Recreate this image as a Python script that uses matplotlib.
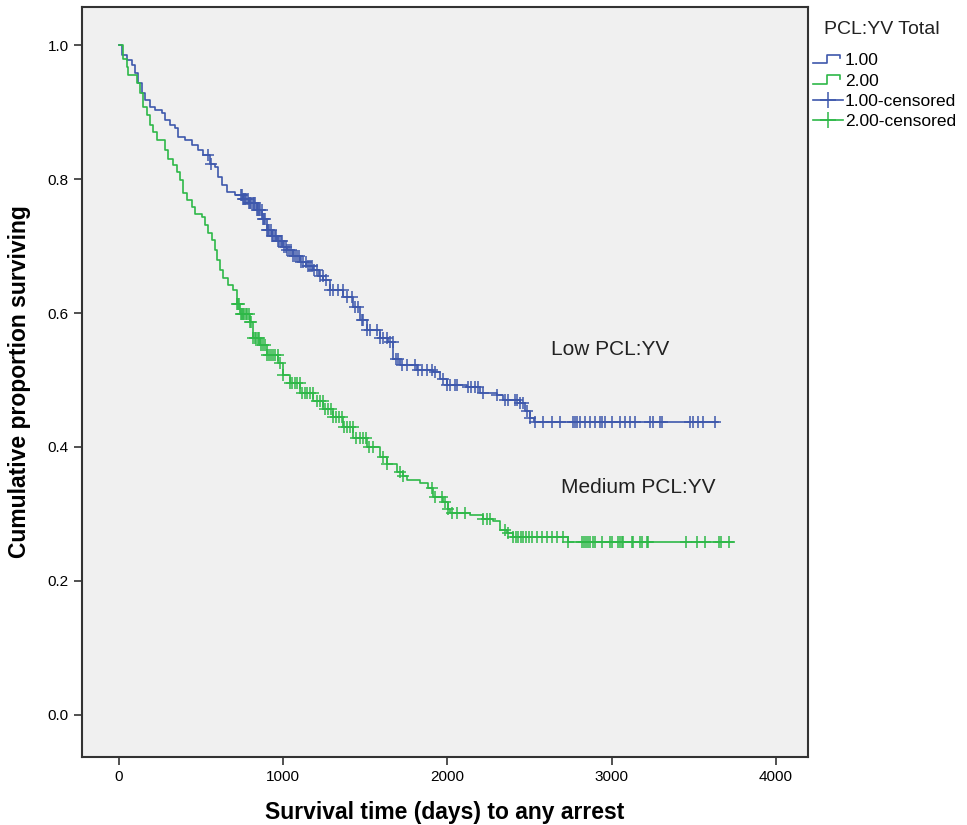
import numpy as np
import matplotlib
matplotlib.use("Agg")
import matplotlib.pyplot as plt
from matplotlib.lines import Line2D
from matplotlib.legend_handler import HandlerBase

plt.rcParams['font.family'] = ['Liberation Sans', 'DejaVu Sans']

# Kaplan-Meier step points (time in days, cumulative survival after the step)
low_t = [0, 16, 47, 77, 97, 118, 138, 158, 189, 219, 260, 280, 310, 341, 361, 402,
         442, 483, 514, 554, 585, 605, 625, 656, 706, 757, 790, 838, 870, 899, 930,
         960, 1000, 1021, 1060, 1100, 1140, 1183, 1215, 1242, 1285, 1366, 1427, 1467,
         1508, 1589, 1640, 1671, 1711, 1813, 1914, 1955, 1995, 2117, 2198, 2300, 2340,
         2442, 2472, 2503, 2525, 3649]
low_s = [1.0, 0.985, 0.978, 0.970, 0.958, 0.943, 0.928, 0.918, 0.908, 0.903, 0.898,
         0.888, 0.881, 0.876, 0.863, 0.858, 0.851, 0.843, 0.836, 0.823, 0.818, 0.803,
         0.791, 0.781, 0.776, 0.771, 0.765, 0.754, 0.740, 0.724, 0.715, 0.707, 0.698,
         0.694, 0.685, 0.676, 0.670, 0.664, 0.656, 0.649, 0.634, 0.624, 0.609, 0.590,
         0.575, 0.562, 0.557, 0.532, 0.522, 0.515, 0.512, 0.502, 0.493, 0.490, 0.480,
         0.478, 0.470, 0.465, 0.453, 0.443, 0.437, 0.437]

med_t = [0, 26, 47, 57, 108, 128, 148, 168, 189, 209, 229, 280, 300, 331, 351, 371,
         392, 412, 442, 463, 503, 524, 544, 564, 585, 595, 615, 635, 666, 696, 717,
         737, 798, 818, 859, 899, 970, 1000, 1041, 1102, 1183, 1244, 1305, 1366, 1427,
         1508, 1589, 1630, 1691, 1731, 1752, 1833, 1884, 1914, 1975, 2005, 2015, 2137,
         2218, 2279, 2320, 2361, 2401, 2736, 3741]
med_s = [1.0, 0.980, 0.968, 0.955, 0.943, 0.928, 0.908, 0.896, 0.881, 0.871, 0.858,
         0.843, 0.830, 0.821, 0.811, 0.799, 0.779, 0.769, 0.758, 0.748, 0.744, 0.731,
         0.719, 0.709, 0.694, 0.679, 0.664, 0.652, 0.642, 0.634, 0.614, 0.599, 0.587,
         0.562, 0.552, 0.537, 0.525, 0.507, 0.495, 0.480, 0.468, 0.457, 0.445, 0.430,
         0.413, 0.400, 0.385, 0.375, 0.363, 0.356, 0.351, 0.346, 0.338, 0.326, 0.318,
         0.308, 0.301, 0.299, 0.293, 0.289, 0.276, 0.271, 0.266, 0.258, 0.258]

# censoring times
low_cens = [540, 560, 745, 752, 758, 763, 770, 776, 783, 790, 797, 806, 815, 822, 830,
            838, 846, 853, 860, 868, 876, 884, 891, 899, 907, 915, 923, 931, 940, 948,
            957, 966, 975, 984, 993, 1003, 1014, 1025, 1037, 1048, 1060, 1072, 1085,
            1098, 1110, 1123, 1136, 1150, 1163, 1176, 1190, 1204, 1222, 1240, 1262,
            1285, 1303, 1334, 1364, 1388, 1419, 1437, 1456, 1480, 1486, 1510, 1528,
            1571, 1589, 1607, 1632, 1650, 1668, 1685, 1700, 1723, 1752, 1802, 1820,
            1845, 1873, 1904, 1924, 1975, 1995, 2015, 2046, 2056, 2125, 2146, 2168,
            2188, 2217, 2300, 2350, 2370, 2411, 2421, 2442, 2462, 2482, 2503, 2533,
            2584, 2635, 2685, 2766, 2777, 2787, 2807, 2837, 2868, 2898, 2929, 2940,
            2959, 3000, 3051, 3081, 3112, 3142, 3233, 3254, 3294, 3304, 3477, 3497,
            3527, 3558, 3629]
med_cens = [717, 725, 732, 740, 747, 755, 763, 772, 781, 790, 798, 806, 818, 826, 835,
            845, 855, 866, 877, 888, 900, 912, 925, 938, 952, 966, 980, 1000, 1041,
            1055, 1070, 1085, 1100, 1115, 1130, 1146, 1162, 1180, 1204, 1224, 1240,
            1256, 1272, 1290, 1306, 1322, 1338, 1355, 1370, 1386, 1407, 1425, 1445,
            1465, 1485, 1505, 1525, 1548, 1609, 1630, 1711, 1731, 1904, 1924, 1965,
            1985, 2005, 2025, 2056, 2107, 2218, 2239, 2259, 2350, 2371, 2401, 2416,
            2431, 2447, 2462, 2480, 2497, 2513, 2543, 2574, 2604, 2634, 2665, 2706,
            2736, 2817, 2830, 2843, 2857, 2870, 2884, 2898, 2939, 2990, 3004, 3041,
            3051, 3061, 3071, 3122, 3132, 3173, 3187, 3213, 3223, 3453, 3518, 3568,
            3656, 3666, 3716]

blue = '#3e58ac'
green = '#2eb848'


def surv_at(ts, ss, times):
    idx = np.searchsorted(ts, times, side='right') - 1
    return np.array(ss)[idx]


class StepHandler(HandlerBase):
    def create_artists(self, legend, orig_handle, xdescent, ydescent, width, height, fontsize, trans):
        w, h = width, height
        xs = [-xdescent, 0.45 * w, 0.45 * w, 0.9 * w, 0.9 * w]
        ys = [0.15 * h, 0.15 * h, 0.85 * h, 0.85 * h, 0.55 * h]
        ln = Line2D(xs, ys, color=orig_handle.get_color(), lw=1.2, transform=trans)
        return [ln]


fig = plt.figure(figsize=(9.67, 8.25), dpi=100)
ax = fig.add_axes([0.0848, 0.0824, 0.7508, 0.9091])
ax.set_facecolor('#f0f0f0')

h1, = ax.step(low_t, low_s, where='post', color=blue, lw=1.2)
h2, = ax.step(med_t, med_s, where='post', color=green, lw=1.2)
ax.plot(low_cens, surv_at(low_t, low_s, low_cens), ls='none', marker='+',
        ms=9, mew=1.1, color=blue)
ax.plot(med_cens, surv_at(med_t, med_s, med_cens), ls='none', marker='+',
        ms=9, mew=1.1, color=green)

ax.text(2630, 0.545, 'Low PCL:YV', fontsize=15, color='#222222', va='center')
ax.text(2691, 0.340, 'Medium PCL:YV', fontsize=15, color='#222222', va='center')

ax.set_xlim(-225, 4195)
ax.set_ylim(-0.063, 1.057)
ax.set_xticks([0, 1000, 2000, 3000, 4000])
ax.set_yticks([0.0, 0.2, 0.4, 0.6, 0.8, 1.0])
ax.set_yticklabels(['%.1f' % v for v in ax.get_yticks()])
ax.tick_params(axis='both', labelsize=11, width=1.2, length=6, color='#333333')
for sp in ax.spines.values():
    sp.set_linewidth(1.5)
    sp.set_color('#333333')

ax.set_xlabel('Survival time (days) to any arrest', fontsize=16.5, fontweight='bold',
              family=['Liberation Sans Narrow', 'Liberation Sans'], labelpad=12)
ax.set_ylabel('Cumulative proportion surviving', fontsize=16.5, fontweight='bold',
              family=['Liberation Sans Narrow', 'Liberation Sans'], labelpad=12)

# legend (SPSS style, outside the plot)
h3 = Line2D([], [], color=blue, lw=1.2, marker='+', ms=11, mew=1.1)
h4 = Line2D([], [], color=green, lw=1.2, marker='+', ms=11, mew=1.1)
fig.text(824 / 967, 1 - 29 / 825, 'PCL:YV Total', fontsize=14, va='center',
         ha='left', color='#222222')
leg = ax.legend([h1, h2, h3, h4], ['1.00', '2.00', '1.00-censored', '2.00-censored'],
                handler_map={h1: StepHandler(), h2: StepHandler()},
                loc='upper left', bbox_to_anchor=(813 / 967, 1 - 53 / 825),
                bbox_transform=fig.transFigure, frameon=False, fontsize=12.5,
                handlelength=1.75, handletextpad=0.1,
                labelspacing=0.3, borderaxespad=0, borderpad=0)

fig.savefig('out.png', dpi=100)
